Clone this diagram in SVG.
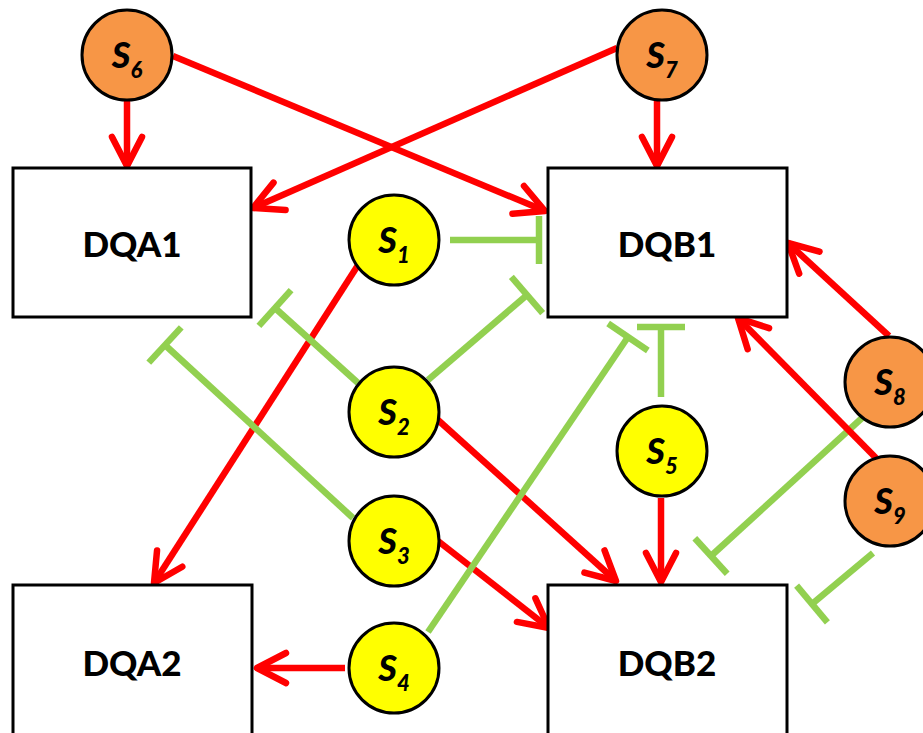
<svg xmlns="http://www.w3.org/2000/svg" width="923" height="733" viewBox="0 0 923 733">
  <style>
    .box { fill: #ffffff; stroke: #000000; stroke-width: 3; }
    .sig { stroke: #000000; stroke-width: 3; }
    .yellow { fill: #ffff00; }
    .orange { fill: #f79646; }
    .act { stroke: #ff0000; stroke-width: 6.5; fill: none; marker-end: url(#arrow); }
    .inh { stroke: #92d050; stroke-width: 6.5; fill: none; marker-end: url(#tee); }
    .boxlabel { font-family: Lato, "Open Sans", sans-serif; font-weight: 900; font-size: 35px; text-anchor: middle; fill: #000000; }
    .siglabel { font-family: Lato, "Open Sans", sans-serif; font-weight: 900; font-style: italic; font-size: 36px; text-anchor: middle; fill: #000000; }
    .sub { font-size: 22px; }
  </style>
  <defs>
    <marker id="arrow" markerUnits="userSpaceOnUse" orient="auto" refX="0" refY="0" markerWidth="80" markerHeight="80" viewBox="-40 -40 80 80" overflow="visible">
      <path d="M-29,-15 L0,0 L-29,15" fill="none" stroke="#ff0000" stroke-width="6.5" stroke-linecap="round" stroke-linejoin="round"/>
    </marker>
    <marker id="tee" markerUnits="userSpaceOnUse" orient="auto" refX="0" refY="0" markerWidth="80" markerHeight="80" viewBox="-40 -40 80 80" overflow="visible">
      <path d="M0,-24 L0,24" fill="none" stroke="#92d050" stroke-width="6.5"/>
    </marker>
  </defs>

  <g id="connectors">
    <!-- activations -->
    <line class="act" x1="127" y1="101" x2="127" y2="166"/>
    <line class="act" x1="173" y1="56" x2="545" y2="211"/>
    <line class="act" x1="617" y1="48" x2="253" y2="208"/>
    <line class="act" x1="657" y1="101" x2="657" y2="166"/>
    <line class="act" x1="360" y1="262" x2="154" y2="583"/>
    <line class="act" x1="438" y1="420" x2="616" y2="581"/>
    <line class="act" x1="438" y1="541" x2="549" y2="628"/>
    <line class="act" x1="345" y1="668" x2="257" y2="668"/>
    <line class="act" x1="661" y1="498" x2="661" y2="582"/>
    <line class="act" x1="889" y1="336" x2="788" y2="243"/>
    <!-- inhibitions -->
    <line class="inh" x1="450" y1="240" x2="539" y2="240"/>
    <line class="inh" x1="358" y1="383" x2="275" y2="308"/>
    <line class="inh" x1="428" y1="380" x2="527" y2="295"/>
    <line class="inh" x1="353" y1="518" x2="165" y2="345"/>
    <line class="inh" x1="428" y1="632" x2="628" y2="337"/>
    <line class="inh" x1="661" y1="397" x2="661" y2="327"/>
    <line class="inh" x1="862" y1="418" x2="711" y2="556"/>
    <line class="inh" x1="873" y1="553" x2="812" y2="604"/>
    <!-- drawn last so it crosses over the S8 inhibition -->
    <line class="act" x1="876" y1="458" x2="738" y2="318"/>
  </g>

  <g id="DQA1">
    <rect class="box" x="13" y="168" width="238" height="149"/>
    <text class="boxlabel" x="132" y="257">DQA1</text>
  </g>
  <g id="DQB1">
    <rect class="box" x="548" y="168" width="239" height="149"/>
    <text class="boxlabel" x="667" y="257">DQB1</text>
  </g>
  <g id="DQA2">
    <rect class="box" x="13" y="585" width="239" height="151"/>
    <text class="boxlabel" x="132" y="676">DQA2</text>
  </g>
  <g id="DQB2">
    <rect class="box" x="548" y="585" width="239" height="151"/>
    <text class="boxlabel" x="667" y="676">DQB2</text>
  </g>

  <g id="S1">
    <circle class="sig yellow" cx="394" cy="240" r="45"/>
    <text class="siglabel" x="394" y="253">S<tspan class="sub" dy="10">1</tspan></text>
  </g>
  <g id="S2">
    <circle class="sig yellow" cx="394" cy="412" r="45"/>
    <text class="siglabel" x="394" y="425">S<tspan class="sub" dy="10">2</tspan></text>
  </g>
  <g id="S3">
    <circle class="sig yellow" cx="394" cy="541" r="45"/>
    <text class="siglabel" x="394" y="554">S<tspan class="sub" dy="10">3</tspan></text>
  </g>
  <g id="S4">
    <circle class="sig yellow" cx="394" cy="668" r="45"/>
    <text class="siglabel" x="394" y="681">S<tspan class="sub" dy="10">4</tspan></text>
  </g>
  <g id="S5">
    <circle class="sig yellow" cx="662" cy="451" r="45"/>
    <text class="siglabel" x="662" y="464">S<tspan class="sub" dy="10">5</tspan></text>
  </g>
  <g id="S6">
    <circle class="sig orange" cx="127" cy="55" r="45"/>
    <text class="siglabel" x="127" y="68">S<tspan class="sub" dy="10">6</tspan></text>
  </g>
  <g id="S7">
    <circle class="sig orange" cx="662" cy="55" r="45"/>
    <text class="siglabel" x="662" y="68">S<tspan class="sub" dy="10">7</tspan></text>
  </g>
  <g id="S8">
    <circle class="sig orange" cx="890" cy="382" r="45"/>
    <text class="siglabel" x="890" y="395">S<tspan class="sub" dy="10">8</tspan></text>
  </g>
  <g id="S9">
    <circle class="sig orange" cx="890" cy="501" r="45"/>
    <text class="siglabel" x="890" y="514">S<tspan class="sub" dy="10">9</tspan></text>
  </g>
</svg>
